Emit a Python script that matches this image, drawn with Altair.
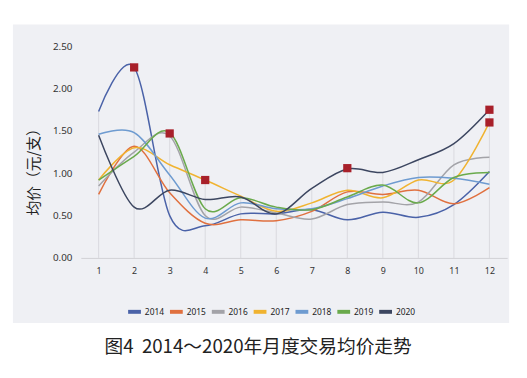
import altair as alt
import pandas as pd

months = list(range(1, 13))
years = ["2014", "2015", "2016", "2017", "2018", "2019", "2020"]
v2014 = [1.73, 2.25, 0.50, 0.38, 0.52, 0.52, 0.57, 0.45, 0.54, 0.48, 0.63, 1.02]
v2015 = [0.75, 1.32, 0.77, 0.41, 0.45, 0.44, 0.55, 0.78, 0.75, 0.80, 0.64, 0.83]
v2016 = [0.85, 1.25, 1.44, 0.50, 0.60, 0.53, 0.46, 0.63, 0.66, 0.66, 1.10, 1.19]
v2017 = [0.92, 1.30, 1.10, 0.92, 0.73, 0.55, 0.65, 0.80, 0.71, 0.92, 0.92, 1.60]
v2018 = [1.46, 1.48, 0.98, 0.47, 0.65, 0.58, 0.58, 0.70, 0.85, 0.95, 0.94, 0.87]
v2019 = [0.92, 1.20, 1.48, 0.58, 0.71, 0.60, 0.57, 0.72, 0.86, 0.65, 0.95, 1.01]
v2020 = [1.45, 0.60, 0.80, 0.69, 0.72, 0.52, 0.82, 1.05, 1.01, 1.16, 1.35, 1.75]
series = [v2014, v2015, v2016, v2017, v2018, v2019, v2020]
colors = ["#4a62a8", "#e0703f", "#a3a3a8", "#f0b330", "#6e9bd0", "#6aaa4c", "#3c4660"]

marker_months = [2, 3, 4, 8, 12, 12]
marker_values = [2.25, 1.47, 0.92, 1.06, 1.75, 1.60]

y_ticks = [0, 0.5, 1.0, 1.5, 2.0, 2.5]
y_title = "均价（元/支）"
caption = "图4\u00a0\u00a02014～2020年月度交易均价走势"

rows = []
for yr, vals in zip(years, series):
    for m, v in zip(months, vals):
        rows.append({"month": m, "value": v, "year": yr})
df = pd.DataFrame(rows)
drop = df.groupby("month", as_index=False)["value"].max()
marks_df = pd.DataFrame({"month": marker_months, "value": marker_values})

W, H = 433, 215
xs = alt.Scale(domain=[0.5, 12.5], nice=False, zero=False)
ys = alt.Scale(domain=[0, 2.5], nice=False)

x_axis = alt.Axis(values=months, format="d", title=None, grid=False, ticks=False,
                  domainColor="#d0d0d4", labelFontSize=9, labelColor="#333333",
                  labelFont="Noto Sans", labelPadding=9, zindex=1,
                  labelOverlap=False, labelBound=False, labelFlush=False)
y_axis = alt.Axis(values=y_ticks, format=".2f", title=None, grid=False, ticks=False,
                  domain=False, labelFontSize=10, labelColor="#333333",
                  labelFont="Noto Sans", labelPadding=9, zindex=1,
                  labelOverlap=False)
X = alt.X("month:Q", scale=xs, axis=x_axis)
Y = alt.Y("value:Q", scale=ys, axis=y_axis)

bg = alt.Chart(pd.DataFrame({"a": [0]})).mark_rect(color="#eff0f4").encode(
    x=alt.value(-69), x2=alt.value(435), y=alt.value(-22), y2=alt.value(281)
)

rules = alt.Chart(drop).mark_rule(color="#d9d9de", strokeWidth=1).encode(
    x=X, y=Y, y2=alt.datum(0),
)

lines = alt.Chart(df).mark_line(interpolate="cardinal", strokeWidth=1.5).encode(
    x=X, y=Y,
    color=alt.Color("year:N", scale=alt.Scale(domain=years, range=colors),
                    legend=alt.Legend(orient="none", legendX=46, legendY=261,
                                      direction="horizontal", title=None,
                                      symbolType="stroke", symbolSize=169,
                                      symbolStrokeWidth=4, labelFontSize=8.5,
                                      labelFont="Noto Sans", labelColor="#222222",
                                      labelOffset=2, columnPadding=-2.5, zindex=1)),
)

pts = alt.Chart(marks_df).mark_point(shape="square", filled=True, size=70,
                                     color="#a8202a", opacity=1).encode(x=X, y=Y)

ytitle = alt.Chart(pd.DataFrame({"t": [y_title]})).mark_text(
    angle=270, fontSize=15, font="Noto Sans CJK SC", color="#222222"
).encode(x=alt.value(-48), y=alt.value(124), text="t:N")

cap = alt.Chart(pd.DataFrame({"t": [caption]})).mark_text(
    fontSize=19, font="Noto Sans CJK SC", color="#222222"
).encode(x=alt.value(180), y=alt.value(306), text="t:N")

chart = alt.layer(bg, rules, lines, pts, ytitle, cap).properties(
    width=W, height=H,
    autosize=alt.AutoSizeParams(type="none"),
    padding={"left": 74, "top": 36, "right": 12, "bottom": 111},
    background="white",
).configure_view(stroke=None)

chart.save("out.html", embed_options={"renderer": "svg", "actions": False})
